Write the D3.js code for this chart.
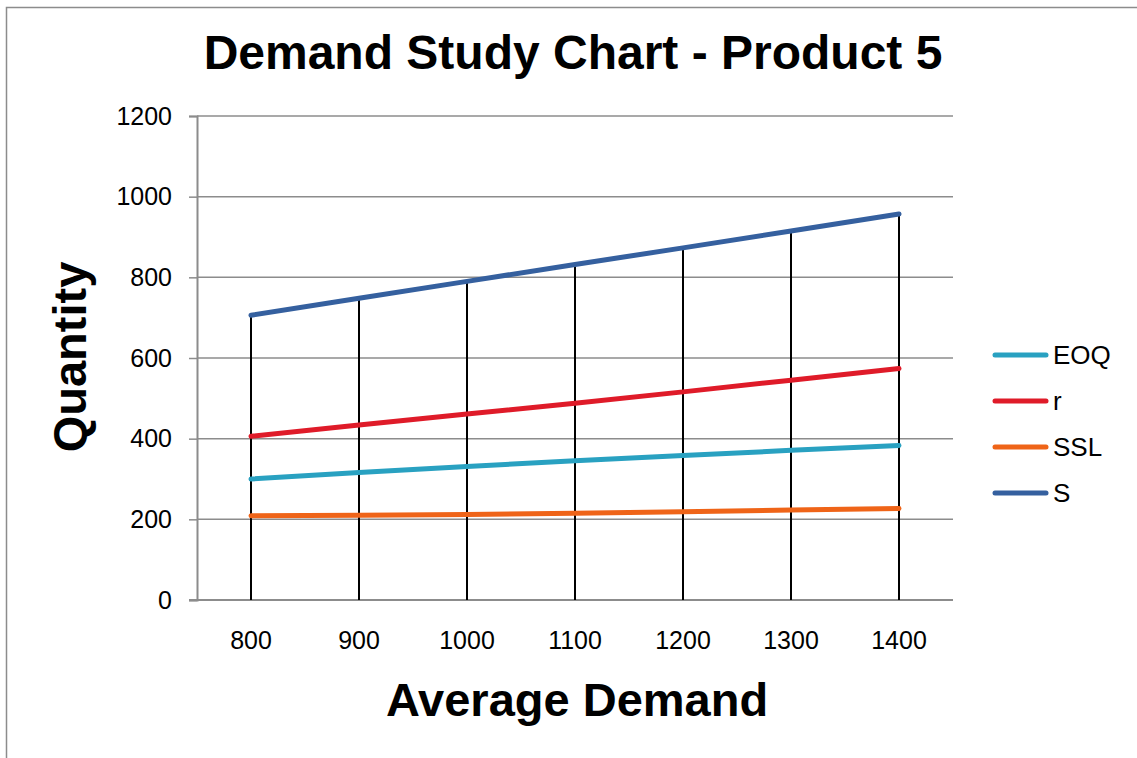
<!DOCTYPE html>
<html>
<head>
<meta charset="utf-8">
<title>Demand Study Chart - Product 5</title>
<script src="https://cdn.jsdelivr.net/npm/d3@7/dist/d3.min.js"></script>
<style>
  body { margin: 0; background: #fff; }
  svg { display: block; font-family: "Liberation Sans", Arial, sans-serif; }
</style>
</head>
<body>
<div id="container"></div>
<script>
  // values
  var demand = [800, 900, 1000, 1100, 1200, 1300, 1400];
  var eoq = [300, 316, 331, 345, 358, 371, 383];
  var rPoint = [406, 434, 461, 488, 516, 545, 574];
  var ssl = [209, 210, 212, 215, 219, 223, 227];
  var sLevel = [706, 748, 790, 832, 873, 915, 957];
  var yTicks = [0, 200, 400, 600, 800, 1000, 1200];

  var seriesNames = ["EOQ", "r", "SSL", "S"];
  var seriesValues = [eoq, rPoint, ssl, sLevel];
  var colors = {"EOQ": "#29a1c1", "r": "#df1b29", "SSL": "#ef6418", "S": "#35609f"};

  var width = 1137, height = 758;
  var margin = {top: 116, right: 184, bottom: 158, left: 197};
  var plotW = width - margin.left - margin.right,
      plotH = height - margin.top - margin.bottom;

  var svg = d3.select("#container").append("svg")
      .attr("width", width)
      .attr("height", height);

  // chart frame
  svg.append("rect")
      .attr("x", 6.5).attr("y", 7.5)
      .attr("width", 1300).attr("height", 900)
      .attr("fill", "none")
      .attr("stroke", "#8c8c8c")
      .attr("stroke-width", 1.5);

  var x = d3.scaleBand().domain(demand).range([0, plotW]);
  var y = d3.scaleLinear().domain([0, 1200]).range([plotH, 0]);
  var cx = function(d) { return x(d) + x.bandwidth() / 2; };

  var g = svg.append("g")
      .attr("transform", "translate(" + margin.left + "," + margin.top + ")");

  // gridlines
  g.selectAll(".grid").data(yTicks.slice(1)).enter().append("line")
      .attr("class", "grid")
      .attr("x1", 0).attr("x2", plotW)
      .attr("y1", d => y(d)).attr("y2", d => y(d))
      .attr("stroke", "#8c8c8c")
      .attr("stroke-width", 1.5);

  // y axis
  var yAxis = d3.axisLeft(y).tickValues(yTicks).tickFormat(d3.format("d"))
      .tickSize(8).tickPadding(17);
  var yg = g.append("g").call(yAxis);
  yg.selectAll(".domain").attr("stroke", "#8c8c8c").attr("stroke-width", 2);
  yg.selectAll(".tick line").attr("stroke", "#8c8c8c").attr("stroke-width", 1.5);
  yg.selectAll(".tick text").attr("fill", "#000").style("font-size", "25px")
      .attr("font-family", "Liberation Sans, Arial, sans-serif");

  // x axis
  var xAxis = d3.axisBottom(x).tickSize(0).tickPadding(31);
  var xg = g.append("g").attr("transform", "translate(0," + plotH + ")").call(xAxis);
  xg.selectAll(".domain").attr("stroke", "#8c8c8c").attr("stroke-width", 2)
      .attr("d", "M-8,0H" + plotW);
  xg.selectAll(".tick text").attr("fill", "#000").style("font-size", "25px")
      .attr("font-family", "Liberation Sans, Arial, sans-serif");

  // drop lines from highest point to the axis
  g.selectAll(".drop").data(demand).enter().append("line")
      .attr("class", "drop")
      .attr("x1", d => cx(d)).attr("x2", d => cx(d))
      .attr("y1", (d, i) => y(d3.max(seriesValues, s => s[i])))
      .attr("y2", plotH)
      .attr("stroke", "#000")
      .attr("stroke-width", 2);

  var line = d3.line()
      .x((d, i) => cx(demand[i]))
      .y(d => y(d));

  seriesNames.forEach(function(name, k) {
    g.append("path")
      .datum(seriesValues[k])
      .attr("d", line)
      .attr("fill", "none")
      .attr("stroke", colors[name])
      .attr("stroke-width", 5)
      .attr("stroke-linecap", "round")
      .attr("stroke-linejoin", "round");
  });

  // legend
  var legendY = [355, 401, 447, 493];
  var lg = svg.append("g");
  seriesNames.forEach(function(name, k) {
    lg.append("line")
      .attr("x1", 995).attr("x2", 1046)
      .attr("y1", legendY[k]).attr("y2", legendY[k])
      .attr("stroke", colors[name])
      .attr("stroke-width", 5)
      .attr("stroke-linecap", "round");
    lg.append("text")
      .attr("x", 1053).attr("y", legendY[k] + 9)
      .style("font-size", "26px")
      .text(name);
  });

  // titles
  svg.append("text")
      .attr("x", 573).attr("y", 69)
      .attr("text-anchor", "middle")
      .style("font-size", "48px").style("font-weight", "bold")
      .text("Demand Study Chart - Product 5");

  svg.append("text")
      .attr("x", 577).attr("y", 716)
      .attr("text-anchor", "middle")
      .style("font-size", "47px").style("font-weight", "bold")
      .text("Average Demand");

  svg.append("text")
      .attr("transform", "translate(86,357) rotate(-90)")
      .attr("text-anchor", "middle")
      .style("font-size", "47px").style("font-weight", "bold")
      .text("Quantity");
</script>
</body>
</html>
